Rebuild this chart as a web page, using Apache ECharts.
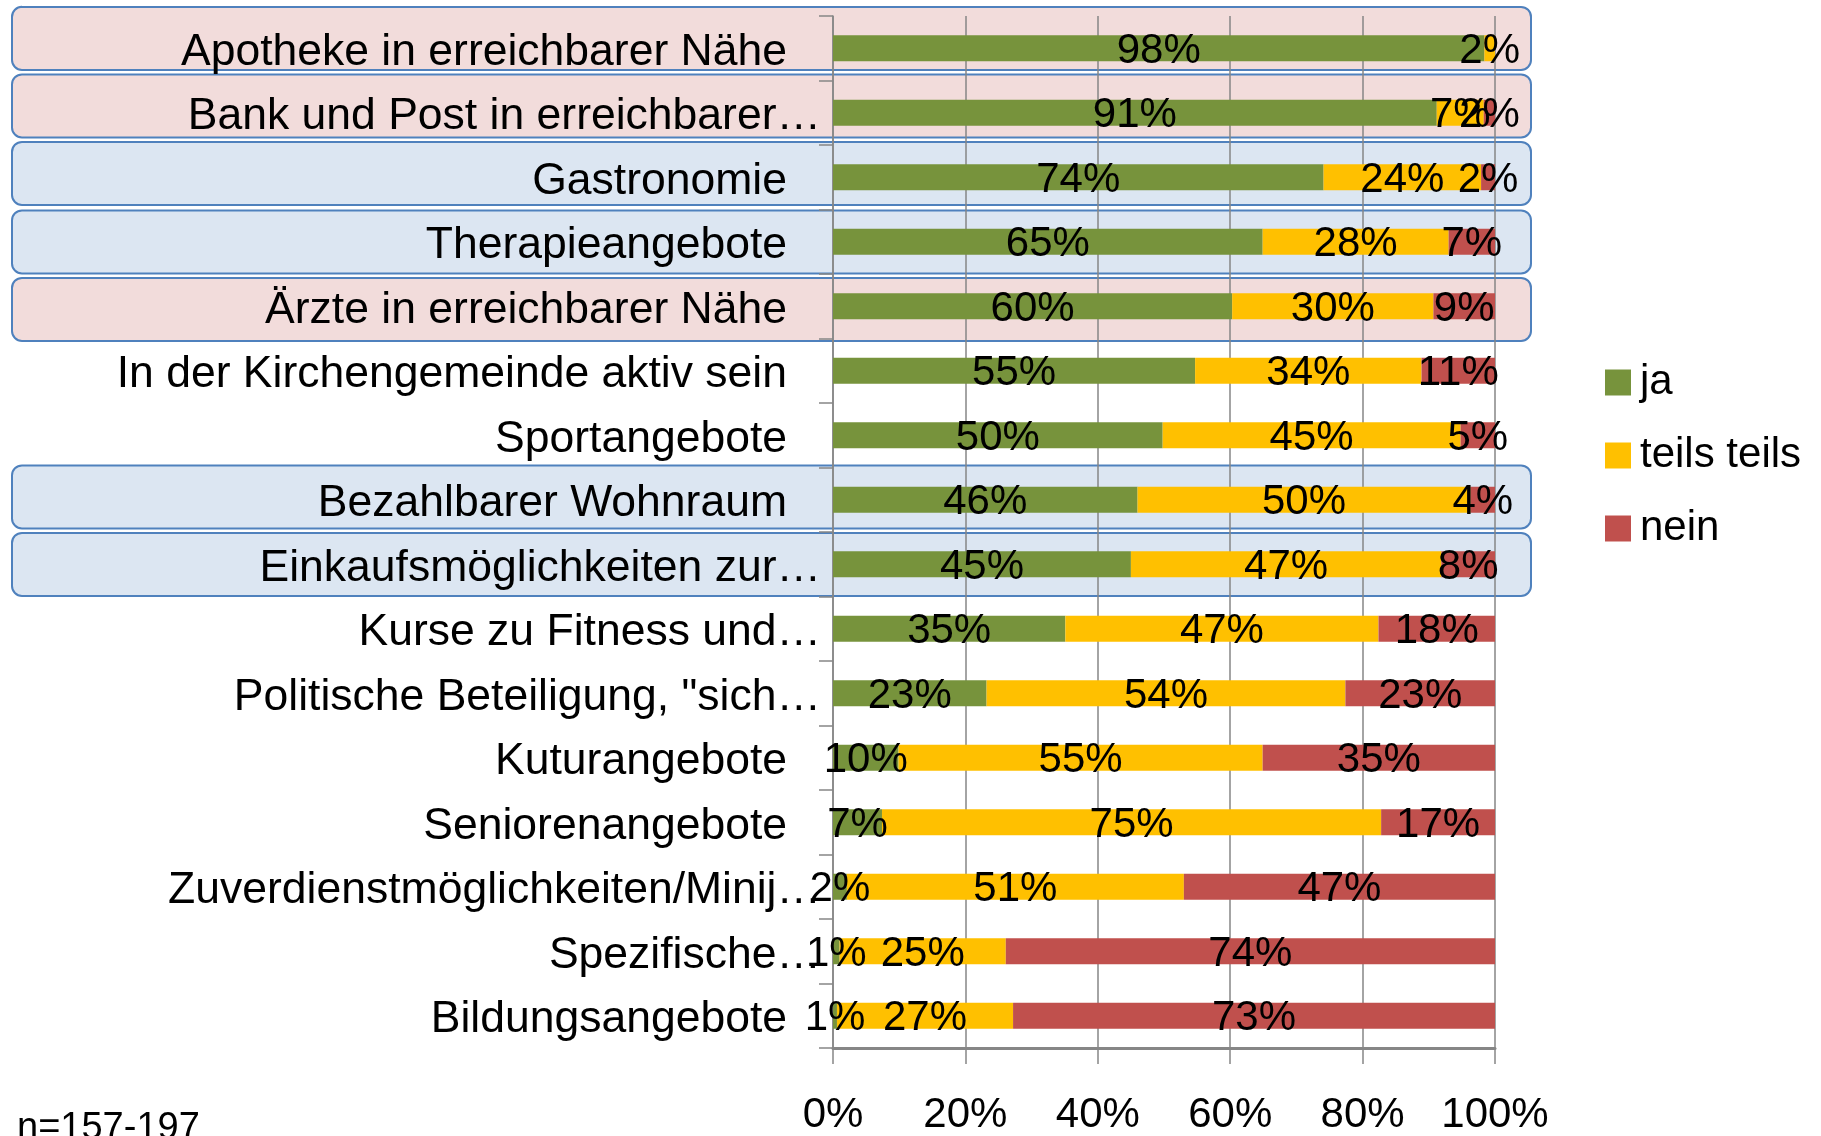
<!DOCTYPE html>
<html>
<head>
<meta charset="utf-8">
<script src="https://cdn.jsdelivr.net/npm/echarts@6/dist/echarts.min.js"></script>
<style>
html,body{margin:0;padding:0;background:#fff;}
#chart{width:1821px;height:1136px;}
</style>
</head>
<body>
<div id="chart"></div>
<script>
const categories = [
  'Apotheke in erreichbarer Nähe',
  'Bank und Post in erreichbarer…',
  'Gastronomie',
  'Therapieangebote',
  'Ärzte in erreichbarer Nähe',
  'In der Kirchengemeinde aktiv sein',
  'Sportangebote',
  'Bezahlbarer Wohnraum',
  'Einkaufsmöglichkeiten zur…',
  'Kurse zu Fitness und…',
  'Politische Beteiligung, "sich…',
  'Kuturangebote',
  'Seniorenangebote',
  'Zuverdienstmöglichkeiten/Minij…',
  'Spezifische…',
  'Bildungsangebote'
];
// shares in percent (labels show rounded values)
const ja    = [98.4, 91.2, 74.1, 64.9, 60.3, 54.7, 49.8, 46.0, 45.0, 35.1, 23.2,  9.9,  7.4,  2.1,  1.0,  0.6];
const teils = [ 1.6,  7.1, 23.8, 28.1, 30.4, 34.2, 45.0, 50.3, 46.9, 47.3, 54.2, 55.0, 75.4, 50.9, 25.1, 26.6];
const nein  = [ 0.0,  1.7,  2.1,  7.0,  9.3, 11.1,  5.2,  3.7,  8.1, 17.6, 22.6, 35.1, 17.2, 47.0, 73.9, 72.8];
const seriesNames = ['ja', 'teils teils', 'nein'];
const tickLabels = ['0%', '20%', '40%', '60%', '80%', '100%'];
const pinkRows = ['Apotheke in erreichbarer Nähe', 'Bank und Post in erreichbarer…', 'Ärzte in erreichbarer Nähe'];
const blueRows = ['Gastronomie', 'Therapieangebote', 'Bezahlbarer Wohnraum', 'Einkaufsmöglichkeiten zur…'];
// hand-drawn offsets of the highlight boxes relative to their rows (px)
const boxShift = {
  'Apotheke in erreichbarer Nähe': -9,
  'Bank und Post in erreichbarer…': -6,
  'Gastronomie': -3,
  'Therapieangebote': 1,
  'Ärzte in erreichbarer Nähe': 4,
  'Bezahlbarer Wohnraum': -2,
  'Einkaufsmöglichkeiten zur…': 1
};

const FONT = "'Liberation Sans', Arial, sans-serif";
const FS = 42;
const CFS = 44.5;
const colors = ['#77933C', '#FFC000', '#C0504D'];

const chart = echarts.init(document.getElementById('chart'));

function mkSeries(name, data, color) {
  return {
    name: name,
    type: 'bar',
    stack: 'total',
    data: data,
    barWidth: 26,
    itemStyle: { color: color },
    label: {
      show: true,
      position: 'inside',
      offset: [0, 3],
      color: '#000',
      fontFamily: FONT,
      fontSize: FS,
      formatter: p => p.value > 0 ? Math.round(p.value) + '%' : ''
    }
  };
}

const option = {
  animation: false,
  textStyle: { fontFamily: FONT },
  grid: { left: 833, right: 326, top: 16, bottom: 84, containLabel: false },
  legend: {
    orient: 'vertical',
    left: 1600,
    top: 356,
    itemWidth: 26,
    itemHeight: 26,
    itemGap: 30,
    icon: 'rect',
    data: seriesNames,
    textStyle: { fontFamily: FONT, fontSize: FS, color: '#000', lineHeight: 43, padding: [0, 0, 0, 4] }
  },
  xAxis: {
    type: 'value',
    min: 0,
    max: 100,
    interval: 20,
    axisLine: { show: true, lineStyle: { color: '#868686', width: 3 } },
    axisTick: { show: true, length: 16, lineStyle: { color: '#868686', width: 1.5 } },
    splitLine: { show: true, lineStyle: { color: '#868686', width: 1.5 } },
    axisLabel: {
      margin: 46,
      color: '#000',
      fontFamily: FONT,
      fontSize: FS,
      formatter: v => tickLabels[Math.round(v / 20)]
    }
  },
  yAxis: {
    type: 'category',
    inverse: true,
    data: categories,
    axisLine: { show: true, lineStyle: { color: '#868686', width: 1.5 } },
    axisTick: { show: true, length: 14, lineStyle: { color: '#868686', width: 1.5 } },
    axisLabel: {
      margin: 12,
      color: '#000',
      fontFamily: FONT,
      fontSize: CFS,
      formatter: v => v.endsWith('…') ? '{t|' + v + '}' : '{n|' + v + '}',
      rich: {
        t: { fontFamily: FONT, fontSize: CFS, color: '#000', padding: [8, 0, 0, 0] },
        n: { fontFamily: FONT, fontSize: CFS, color: '#000', padding: [8, 34, 0, 0] }
      }
    }
  },
  series: [
    mkSeries(seriesNames[0], ja, colors[0]),
    mkSeries(seriesNames[1], teils, colors[1]),
    mkSeries(seriesNames[2], nein, colors[2])
  ]
};
chart.setOption(option);

// highlight boxes behind the rows, positioned from the category axis
const rowH = (1136 - 84 - 16) / categories.length;
const boxes = [];
function addBox(name, fill) {
  const cy = chart.convertToPixel({ yAxisIndex: 0 }, name);
  boxes.push({
    type: 'rect',
    z: -10,
    shape: { x: 12, y: cy - rowH / 2 + boxShift[name], width: 1519, height: 63, r: 10 },
    style: { fill: fill, stroke: '#4F81BD', lineWidth: 2 }
  });
}
pinkRows.forEach(n => addBox(n, '#F2DCDB'));
blueRows.forEach(n => addBox(n, '#DCE6F2'));
boxes.push({
  type: 'text',
  left: 17,
  top: 1110,
  style: { text: 'n=157-197', font: '38px ' + FONT, fill: '#000' }
});
chart.setOption({ graphic: { z: -10, elements: boxes } });
</script>
</body>
</html>
